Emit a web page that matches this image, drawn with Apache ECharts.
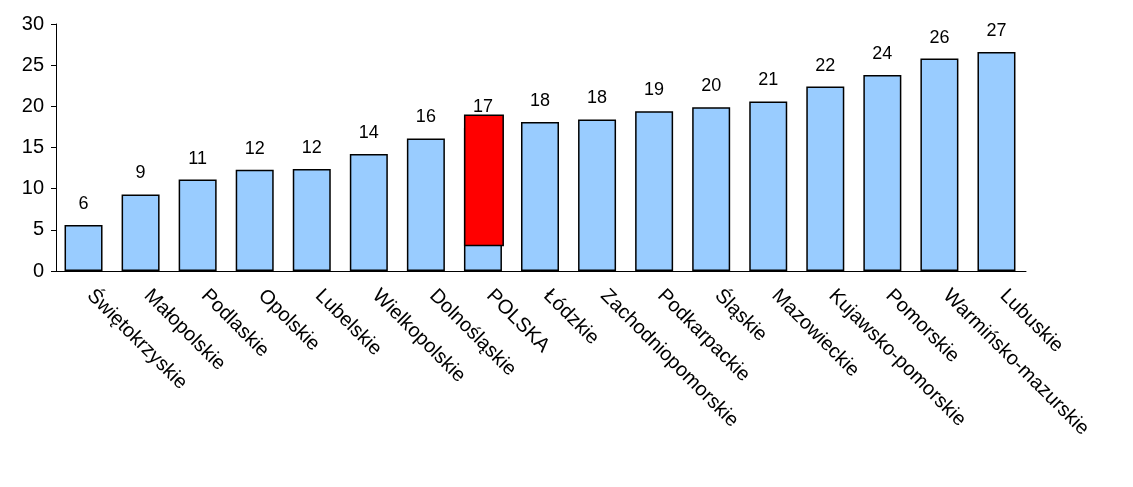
<!DOCTYPE html>
<html>
<head>
<meta charset="utf-8">
<script src="https://cdn.jsdelivr.net/npm/echarts@6/dist/echarts.min.js"></script>
<style>html,body{margin:0;padding:0;background:#fff}#c{width:1133px;height:487px}</style>
</head>
<body>
<div id="c"></div>
<script>
// województwa
var categories = ['Świętokrzyskie', 'Małopolskie', 'Podlaskie', 'Opolskie', 'Lubelskie', 'Wielkopolskie', 'Dolnośląskie', 'POLSKA', 'Łódzkie', 'Zachodniopomorskie', 'Podkarpackie', 'Śląskie', 'Mazowieckie', 'Kujawsko-pomorskie', 'Pomorskie', 'Warmińsko-mazurskie', 'Lubuskie'];
var values = [5.6, 9.3, 11.1, 12.3, 12.4, 14.2, 16.1, 17.4, 18.1, 18.4, 19.4, 19.9, 20.6, 22.4, 23.8, 25.8, 26.6];
// czerwony prostokat przy POLSKA: od 3 do 19
var boxBase = [null, null, null, null, null, null, null, 3, null, null, null, null, null, null, null, null, null];
var boxSize = [null, null, null, null, null, null, null, 16, null, null, null, null, null, null, null, null, null];

var chart = echarts.init(document.getElementById('c'));
var font = 'Arial, "Liberation Sans", sans-serif';
chart.setOption({
  animation: false,
  grid: {left: 56, right: 107, top: 24, bottom: 216},
  xAxis: {
    type: 'category',
    data: categories,
    axisLine: {lineStyle: {color: '#000'}},
    axisTick: {show: false},
    axisLabel: {rotate: -45, color: '#000', fontSize: 20, fontFamily: font, interval: 0, margin: 16, align: 'left', padding: [0, 0, 0, 8]}
  },
  yAxis: {
    type: 'value',
    min: 0, max: 30, interval: 5,
    splitLine: {show: false},
    axisLine: {show: true, lineStyle: {color: '#000'}},
    axisTick: {show: true, length: 5, lineStyle: {color: '#000'}},
    axisLabel: {color: '#000', fontSize: 20, fontFamily: font, margin: 12}
  },
  series: [
    {
      type: 'bar',
      data: values,
      barWidth: 38,
      itemStyle: {color: '#99ccff', borderColor: '#000', borderWidth: 1.5},
      label: {
        show: true, position: 'top', distance: 12, color: '#000', fontSize: 18, fontFamily: font,
        formatter: function (p) { return Math.round(p.value); }
      }
    },
    {
      type: 'bar', stack: 'box', data: boxBase, barWidth: 40, barGap: '-100%',
      itemStyle: {color: 'transparent'}, silent: true
    },
    {
      type: 'bar', stack: 'box', data: boxSize, barWidth: 40,
      itemStyle: {color: '#ff0000', borderColor: '#000', borderWidth: 1.5}
    }
  ]
});
</script>
</body>
</html>
